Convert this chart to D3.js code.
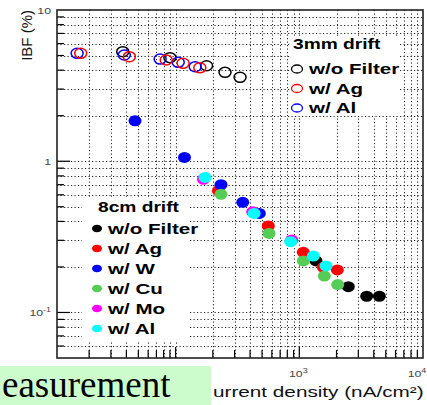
<!DOCTYPE html>
<html><head><meta charset="utf-8">
<script src="https://cdn.jsdelivr.net/npm/d3@7"></script>
<style>
html,body{margin:0;padding:0;background:#fff;}
svg{display:block;font-family:"Liberation Sans",Arial,sans-serif;}
</style></head>
<body>
<svg id="c" width="427" height="405"></svg>
<script>
// ---- data ----
const xTickMajors = [100, 1000, 10000];
const xTickLabels = ["", "3", "4"];          // exponents of 10
const yTickMajors = [0.1, 1, 10];
const yTickLabels = ["-1", "", ""];           // exponents ("" = plain)
const yTickText = ["10", "1", "10"];

// 3mm drift (hollow)
const mm3Names = ["w/o Filter", "w/ Ag", "w/ Al"];
const mm3NoFilterX = [37.4, 90, 178, 251, 332];
const mm3NoFilterY = [5.30, 4.84, 4.28, 3.87, 3.59];
const mm3AgX = [17.1, 42.3, 84, 115, 157];
const mm3AgY = [5.17, 4.91, 4.67, 4.44, 4.15];
const mm3AlX = [16.0, 38.5, 75, 105, 144];
const mm3AlY = [5.17, 5.04, 4.74, 4.51, 4.22];

// 8cm drift (filled)
const cm8Names = ["w/o Filter", "w/ Ag", "w/ W", "w/ Cu", "w/ Mo", "w/ Al"];
const cm8NoFilterX = [1365, 2490, 3509, 4437];
const cm8NoFilterY = [0.219, 0.148, 0.128, 0.128];
const cm8AgX = [222, 562, 1078, 1564, 2030];
const cm8AgY = [0.638, 0.373, 0.250, 0.199, 0.191];
const cm8WX = [47, 118, 233, 349, 475];
const cm8WY = [1.85, 1.06, 0.70, 0.535, 0.452];
const cm8CuX = [233, 569, 1078, 1594, 2045];
const cm8CuY = [0.604, 0.333, 0.219, 0.174, 0.153];
const cm8MoX = [168, 420, 868];
const cm8MoY = [0.759, 0.463, 0.301];
const cm8AlX = [173, 431, 852, 1298, 1645];
const cm8AlY = [0.782, 0.452, 0.294, 0.236, 0.203];

const mm3Colors = ["#000000", "#ff0000", "#0000ff"];
const cm8Colors = ["#000000", "#ff0000", "#0000ff", "#55cc55", "#ff00ff", "#00ffff"];

// ---- layout ----
const svg = d3.select("#c");
const L = 57, R = 423, T = 10, B = 358;
const x = d3.scaleLog().domain([11, 10000]).range([L, R]);
const y = d3.scaleLog().domain([0.05, 10]).range([B, T]);
const SX = 1.37; // horizontal stretch of text in the original

// grid
const xMinor = [];
[10, 100, 1000].forEach(d => { for (let k = 2; k <= 10; k++) xMinor.push(d * k); });
const yMinor = [];
[0.01, 0.1, 1].forEach(d => { for (let k = 2; k <= 10; k++) { const v = +(d * k).toPrecision(3); if (v > 0.05 && v <= 10) yMinor.push(v); } });

const grid = svg.append("g").attr("stroke", "#000").attr("stroke-width", 1)
  .attr("stroke-dasharray", "1.2,2.3").attr("opacity", 0.85);
grid.selectAll(".vx").data(xMinor.filter(v => v < 10000)).join("line")
  .attr("x1", d => Math.round(x(d)) + 0.5).attr("x2", d => Math.round(x(d)) + 0.5)
  .attr("y1", T).attr("y2", B);
grid.selectAll(".hy").data(yMinor.filter(v => v < 10)).join("line")
  .attr("y1", d => Math.round(y(d)) + 0.5).attr("y2", d => Math.round(y(d)) + 0.5)
  .attr("x1", L).attr("x2", R);

// legend boxes (hide grid)
svg.append("rect").attr("x", 290).attr("y", 36).attr("width", 108).attr("height", 80).attr("fill", "#fff");
svg.append("rect").attr("x", 82).attr("y", 197).attr("width", 106).attr("height", 144).attr("fill", "#fff");

// ticks
const tk = svg.append("g").attr("stroke", "#000").attr("stroke-width", 1.2);
tk.selectAll(".tx").data(xMinor.filter(v => v < 10000)).join("line")
  .attr("x1", d => x(d)).attr("x2", d => x(d))
  .attr("y1", B).attr("y2", d => B - (xTickMajors.includes(d) ? 11 : 8));
tk.selectAll(".ty").data(yMinor.filter(v => v < 10)).join("line")
  .attr("y1", d => y(d)).attr("y2", d => y(d))
  .attr("x1", L).attr("x2", d => L + (yTickMajors.includes(d) ? 13 : 7));

// frame
svg.append("rect").attr("x", L).attr("y", T).attr("width", R - L).attr("height", B - T)
  .attr("fill", "none").attr("stroke", "#222").attr("stroke-width", 1.6);

// tick labels
function supLabel(g, base, exp, px, py, anchor) {
  const t = g.append("text").attr("transform", `translate(${px},${py}) scale(${SX},1)`)
    .attr("text-anchor", anchor).attr("font-size", 9).attr("fill", "#444");
  t.append("tspan").text(base);
  if (exp) t.append("tspan").attr("font-size", 6.5).attr("dy", -4).text(exp);
  return t;
}
const lab = svg.append("g");
xTickMajors.forEach((v, i) => {
  if (!xTickLabels[i]) return;
  const px = v >= 10000 ? x(v) - 6 : x(v) - 1;
  supLabel(lab, "10", xTickLabels[i], px, 377, "middle");
});
yTickMajors.forEach((v, i) => {
  supLabel(lab, yTickText[i], yTickLabels[i], 51, y(v) + 3.5, "end");
});

// axis titles
svg.append("text").attr("transform", `translate(32,10) rotate(-90)`)
  .attr("text-anchor", "end").attr("font-size", 15).attr("fill", "#111").text("IBF (%)");
svg.append("text").attr("transform", `translate(213,397) scale(1.48,1)`)
  .attr("font-size", 14).attr("fill", "#111").text("urrent density (nA/cm²)");

// data: 8cm filled
const filled = [
  [cm8NoFilterX, cm8NoFilterY, 0],
  [cm8AgX, cm8AgY, 1],
  [cm8WX, cm8WY, 2],
  [cm8CuX, cm8CuY, 3],
  [cm8MoX, cm8MoY, 4],
  [cm8AlX, cm8AlY, 5]
];
filled.forEach(([xs, ys, ci]) => {
  svg.append("g").selectAll("ellipse").data(xs.map((d, i) => [d, ys[i]])).join("ellipse")
    .attr("cx", d => x(d[0])).attr("cy", d => y(d[1]))
    .attr("rx", 6.5).attr("ry", 5.5).attr("fill", cm8Colors[ci]);
});

// data: 3mm hollow
const hollow = [
  [mm3NoFilterX, mm3NoFilterY, 0],
  [mm3AlX, mm3AlY, 2],
  [mm3AgX, mm3AgY, 1]
];
hollow.forEach(([xs, ys, ci]) => {
  svg.append("g").selectAll("ellipse").data(xs.map((d, i) => [d, ys[i]])).join("ellipse")
    .attr("cx", d => x(d[0])).attr("cy", d => y(d[1]))
    .attr("rx", 6).attr("ry", 5).attr("fill", "none")
    .attr("stroke", mm3Colors[ci]).attr("stroke-width", 1.5);
});

// legends
function legText(px, py, s, size) {
  svg.append("text").attr("transform", `translate(${px},${py}) scale(${SX},1)`)
    .attr("font-size", size).attr("font-weight", "bold").attr("fill", "#000").text(s);
}
legText(293, 49, "3mm drift", 14);
mm3Names.forEach((n, i) => {
  const cy = 69 + i * 19.5;
  svg.append("ellipse").attr("cx", 297).attr("cy", cy).attr("rx", 5.5).attr("ry", 4)
    .attr("fill", "none").attr("stroke", mm3Colors[i]).attr("stroke-width", 1.3);
  legText(309, cy + 5.3, n, 15);
});
legText(98, 212, "8cm drift", 14);
cm8Names.forEach((n, i) => {
  const cy = 228.5 + i * 20;
  svg.append("ellipse").attr("cx", 97).attr("cy", cy).attr("rx", 5).attr("ry", 3.8)
    .attr("fill", cm8Colors[i]);
  legText(108, cy + 5.3, n, 15);
});

// green caption box at the bottom
svg.append("rect").attr("x", 0).attr("y", 366).attr("width", 211).attr("height", 39).attr("fill", "#ccfccc");
svg.append("text").attr("x", 2).attr("y", 397).attr("font-family", "Liberation Serif, serif")
  .attr("font-size", 37).attr("fill", "#000").text("easurement");
</script>
</body></html>
